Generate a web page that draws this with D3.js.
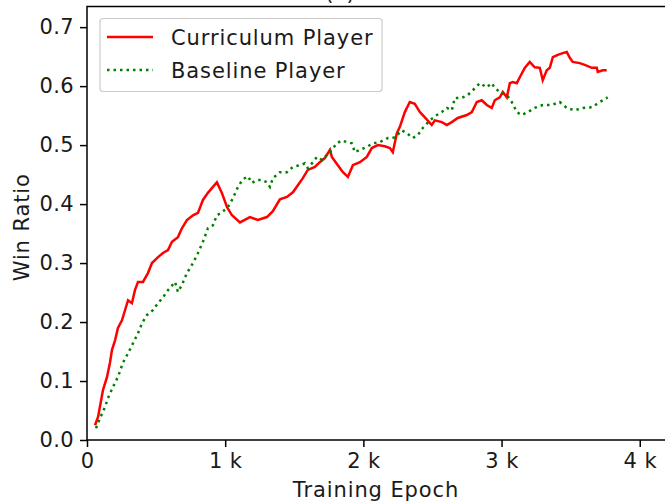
<!DOCTYPE html>
<html>
<head>
<meta charset="utf-8">
<script src="https://cdn.jsdelivr.net/npm/d3@7"></script>
<style>
  html, body { margin: 0; padding: 0; background: #fff; }
  svg { display: block; }
  text { font-family: "DejaVu Sans", sans-serif; fill: #1a1a1a; }
</style>
</head>
<body>
<svg id="chart" width="665" height="504"></svg>
<script>
// ---- data ----
const curriculumEpoch = [58,80,116,145,166,181,203,224,253,275,297,325,347,369,405,441,470,514,550,586,615,658,687,723,767,803,839,875,904,940,976,1013,1049,1107,1179,1237,1302,1345,1396,1447,1490,1526,1562,1598,1649,1685,1721,1758,1772,1815,1852,1888,1924,1975,2025,2061,2105,2155,2192,2213,2242,2264,2300,2336,2372,2409,2445,2495,2517,2568,2604,2640,2683,2749,2785,2821,2857,2893,2929,2951,2987,3009,3038,3060,3081,3110,3132,3168,3204,3240,3277,3298,3327,3349,3371,3407,3443,3472,3494,3515,3566,3602,3653,3689,3696,3732,3761];
const curriculumWin = [0.025,0.039,0.085,0.107,0.131,0.153,0.169,0.190,0.203,0.220,0.237,0.232,0.254,0.268,0.268,0.283,0.300,0.310,0.317,0.322,0.336,0.344,0.359,0.373,0.381,0.385,0.407,0.419,0.427,0.437,0.419,0.395,0.381,0.369,0.378,0.373,0.378,0.388,0.408,0.412,0.420,0.432,0.444,0.458,0.463,0.471,0.478,0.492,0.480,0.466,0.454,0.446,0.466,0.471,0.480,0.495,0.500,0.498,0.495,0.488,0.520,0.531,0.556,0.573,0.570,0.556,0.547,0.534,0.542,0.539,0.534,0.539,0.546,0.551,0.556,0.573,0.576,0.568,0.563,0.576,0.581,0.590,0.581,0.605,0.607,0.605,0.615,0.631,0.641,0.632,0.631,0.610,0.627,0.631,0.649,0.653,0.656,0.658,0.648,0.641,0.639,0.636,0.631,0.631,0.624,0.627,0.627];

const baselineEpoch = [65,94,130,152,188,224,260,297,333,369,398,434,477,514,550,586,637,658,687,723,767,803,839,875,911,940,976,1020,1056,1092,1128,1165,1193,1230,1266,1302,1324,1345,1396,1447,1490,1541,1577,1598,1635,1664,1700,1736,1772,1808,1844,1881,1917,1938,1975,2025,2069,2119,2177,2228,2278,2315,2358,2394,2430,2481,2532,2568,2604,2640,2662,2712,2756,2792,2843,2893,2929,2951,2987,3038,3074,3110,3146,3190,3240,3298,3363,3421,3472,3530,3588,3653,3711,3768];
const baselineWin = [0.020,0.037,0.056,0.071,0.090,0.107,0.131,0.147,0.164,0.181,0.198,0.212,0.220,0.232,0.242,0.254,0.268,0.251,0.263,0.283,0.300,0.317,0.336,0.359,0.364,0.381,0.386,0.395,0.410,0.429,0.442,0.447,0.436,0.441,0.441,0.437,0.429,0.444,0.454,0.454,0.463,0.466,0.469,0.461,0.471,0.480,0.475,0.483,0.492,0.503,0.508,0.505,0.503,0.488,0.492,0.497,0.503,0.505,0.512,0.513,0.525,0.520,0.512,0.517,0.529,0.542,0.551,0.556,0.563,0.559,0.580,0.580,0.585,0.593,0.605,0.598,0.605,0.597,0.590,0.585,0.573,0.556,0.551,0.556,0.563,0.568,0.568,0.573,0.563,0.559,0.563,0.564,0.573,0.581];

const xTicks = [0, 1000, 2000, 3000, 4000];
const xTickLabels = ["0", "1 k", "2 k", "3 k", "4 k"];
const yTicks = [0.0, 0.1, 0.2, 0.3, 0.4, 0.5, 0.6, 0.7];
const seriesNames = ["Curriculum Player", "Baseline Player"];
const seriesColors = ["#ff0000", "#008000"];
const xDomain = [0, 4190];
const yDomain = [0, 0.735];
const titleText = "(a)";
const xLabel = "Training Epoch";
const yLabel = "Win Ratio";

// ---- layout ----
const mLeft = 87, mRight = 666, mTop = 6.5, mBottom = 440;
const fs = 21;
const ls = "0.9px";
const svg = d3.select("#chart");

const x = d3.scaleLinear().domain(xDomain).range([mLeft, mRight]);
const y = d3.scaleLinear().domain(yDomain).range([mBottom, mTop]);

// title (mostly clipped at top, as in the reference)
svg.append("text").attr("x", 340).attr("y", 0).attr("text-anchor", "middle")
  .attr("font-size", fs).text(titleText);

// lines
const line = d3.line().x(d => x(d[0])).y(d => y(d[1]));
const curData = curriculumEpoch.map((e, i) => [e, curriculumWin[i]]);
const baseData = baselineEpoch.map((e, i) => [e, baselineWin[i]]);

svg.append("path").datum(curData).attr("d", line)
  .attr("fill", "none").attr("stroke", seriesColors[0]).attr("stroke-width", 2.5)
  .attr("stroke-linejoin", "miter");
svg.append("path").datum(baseData).attr("d", line)
  .attr("fill", "none").attr("stroke", seriesColors[1]).attr("stroke-width", 2.5)
  .attr("stroke-dasharray", "2.5,4");

// axes
const xAxis = d3.axisBottom(x).tickValues(xTicks).tickFormat((d, i) => xTickLabels[i])
  .tickSize(7).tickPadding(6);
const yAxis = d3.axisLeft(y).tickValues(yTicks).tickFormat(d3.format(".1f"))
  .tickSize(7).tickPadding(6);

const gx = svg.append("g").attr("transform", `translate(0,${mBottom})`).call(xAxis);
const gy = svg.append("g").attr("transform", `translate(${mLeft},0)`).call(yAxis);
[gx, gy].forEach(g => {
  g.select(".domain").remove();
  g.selectAll(".tick line").attr("stroke", "#000").attr("stroke-width", 1.5);
  g.selectAll(".tick text").attr("font-size", fs).attr("fill", "#1a1a1a")
    .attr("font-family", "DejaVu Sans, sans-serif").style("letter-spacing", "0.4px");
});

// spines
svg.append("rect").attr("x", mLeft).attr("y", mTop).attr("width", mRight - mLeft)
  .attr("height", mBottom - mTop).attr("fill", "none").attr("stroke", "#000")
  .attr("stroke-width", 1.5);

// axis labels
svg.append("text").attr("x", 376).attr("y", 497)
  .attr("text-anchor", "middle").attr("font-size", fs).style("letter-spacing", ls).text(xLabel);
svg.append("text").attr("transform", `translate(29,${(mTop + mBottom) / 2 + 4}) rotate(-90)`)
  .attr("text-anchor", "middle").attr("font-size", fs).style("letter-spacing", ls).text(yLabel);

// legend
const lg = svg.append("g");
lg.append("rect").attr("x", 100).attr("y", 18.5).attr("width", 282).attr("height", 73)
  .attr("rx", 3).attr("fill", "#fff").attr("fill-opacity", 0.8)
  .attr("stroke", "#cccccc").attr("stroke-width", 1.2);
const rows = [37, 70];
seriesNames.forEach((name, i) => {
  lg.append("line").attr("x1", 107).attr("x2", 153).attr("y1", rows[i]).attr("y2", rows[i])
    .attr("stroke", seriesColors[i]).attr("stroke-width", 2.5)
    .attr("stroke-dasharray", i === 1 ? "2.5,4" : null);
  lg.append("text").attr("x", 171).attr("y", rows[i]).attr("dy", "0.36em")
    .attr("font-size", fs).style("letter-spacing", ls).text(name);
});
</script>
</body>
</html>
